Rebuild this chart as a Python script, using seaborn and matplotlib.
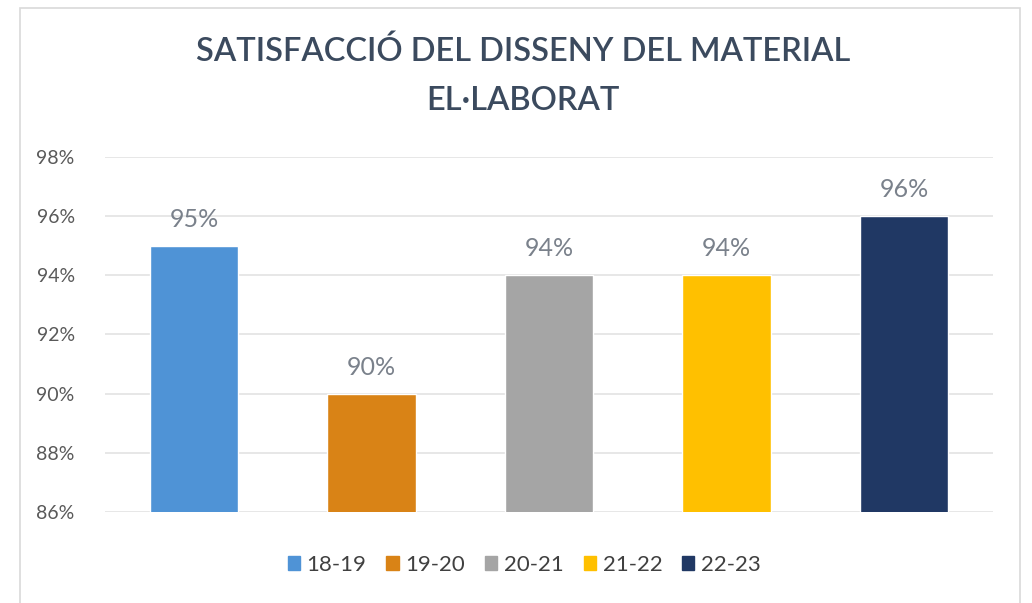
import matplotlib
matplotlib.use("Agg")
import matplotlib.pyplot as plt
import seaborn as sns
import pandas as pd
from matplotlib.patches import Rectangle

categories = ["18-19", "19-20", "20-21", "21-22", "22-23"]
values = [95, 90, 94, 94, 96]
colors = ["#4f93d6", "#d98316", "#a5a5a5", "#ffc000", "#203864"]
yticks = [86, 88, 90, 92, 94, 96, 98]

sns.set_theme(style="white")
plt.rcParams["font.family"] = ["Lato", "DejaVu Sans"]

df = pd.DataFrame({"curs": categories, "valor": values})

fig = plt.figure(figsize=(10.32, 6.03), dpi=100)
ax = fig.add_axes([0.102, 0.151, 0.860, 0.589])

sns.barplot(data=df, x="curs", y="valor", hue="curs", palette=colors,
            width=0.5, ax=ax, legend=False, saturation=1)

ax.set_ylim(86, 98)
ax.set_yticks(yticks)
ax.set_yticklabels([f"{t}%" for t in yticks], color="#595959", fontsize=14)
ax.set_xticks([])
ax.set_xlabel("")
ax.set_ylabel("")
ax.yaxis.grid(True, color="#e3e3e3", linewidth=1.2)
ax.set_axisbelow(True)
for s in ax.spines.values():
    s.set_visible(False)
ax.tick_params(axis="y", length=0, pad=22)

for i, v in enumerate(values):
    ax.text(i, v + 0.5, f"{v}%", ha="center", va="bottom",
            fontsize=18, color="#7a818b")

fig.text(0.507, 0.915, "SATISFACCIÓ DEL DISSENY DEL MATERIAL",
         ha="center", va="center", fontsize=23.5, fontweight="semibold",
         color="#3b4a5e")
fig.text(0.507, 0.833, "EL·LABORAT",
         ha="center", va="center", fontsize=23.5, fontweight="semibold",
         color="#3b4a5e")

handles = [Rectangle((0, 0), 1, 1, color=c) for c in colors]
fig.legend(handles, categories, loc="center", bbox_to_anchor=(0.508, 0.063),
           ncol=5, frameon=False, fontsize=16, handlelength=0.55,
           handleheight=0.55, handletextpad=0.3, columnspacing=0.9,
           labelcolor="#404040")

fig.patches.append(Rectangle((20 / 1032, -0.02), 1000 / 1032, 1.0 - 8 / 603 + 0.02,
                             transform=fig.transFigure, fill=False,
                             edgecolor="#d9d9d9", linewidth=1.2))

fig.savefig("out.png", dpi=100)
